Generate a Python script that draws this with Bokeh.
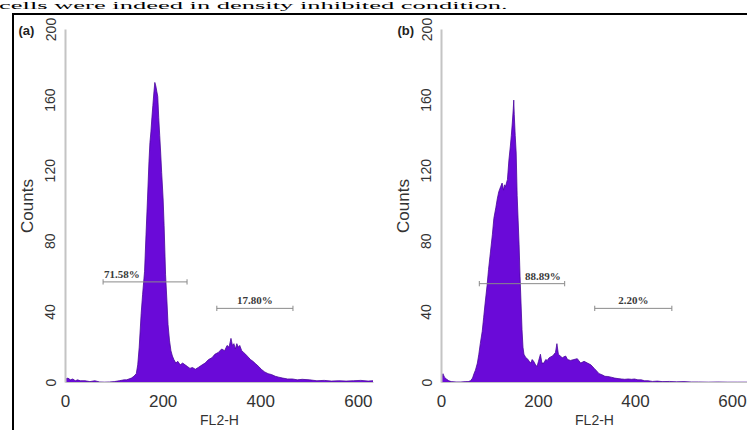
from bokeh.plotting import figure
from bokeh.models import Div, FixedTicker, ColumnDataSource, Spacer
from bokeh.layouts import row, column
from bokeh.embed import file_html
from bokeh.resources import INLINE
from bokeh.core.properties import value

caption = "cells were indeed in density inhibited condition."
x_label = "FL2-H"
y_label = "Counts"
x_ticks = [0, 200, 400, 600]
y_ticks = [0, 40, 80, 120, 160, 200]
panel_tags = ["(a)", "(b)"]

# Panel (a) histogram: FL2-H channel vs counts
a_x = [0, 5, 10, 15, 20, 25, 30, 40, 50, 60, 70, 80, 90, 100, 110, 120, 125, 130, 135, 140,
       145, 148, 151, 155, 158, 162, 165, 168, 171, 173, 175, 177, 179, 181, 183, 185, 187, 189,
       191, 193, 195, 197, 200, 202, 205, 208, 210, 213, 216, 219, 222, 226, 230, 235, 240, 245,
       250, 255, 260, 266, 272, 280, 286, 293, 300, 306, 313, 320, 326, 331, 335, 339, 342, 345,
       348, 351, 354, 357, 361, 365, 369, 374, 379, 384, 390, 396, 401, 408, 415, 422, 430, 437,
       445, 455, 465, 475, 485, 500, 515, 530, 545, 560, 575, 590, 605, 620, 630]
a_counts = [2, 2.5, 1.5, 2, 1, 1.5, 1, 1, 0.5, 1, 0.3, 0.2, 0.3, 0.5, 1, 1.5, 1.5, 2, 2.5, 3.5,
            5, 10, 20, 39, 50, 63, 84, 104, 125, 136, 142, 150, 157, 164, 170, 168, 165, 162,
            150, 140, 130, 119, 104, 89, 61, 45, 33, 24, 18, 15, 13, 11, 12, 10, 11, 10,
            9, 8, 8.5, 7.5, 8.5, 10, 11, 13, 14, 16, 17, 19, 18, 21, 20, 25, 21, 22,
            19, 22, 20, 21, 18, 17, 16, 14.5, 13, 12, 10.5, 9, 7.5, 6, 5, 4.5, 3.5, 3,
            2.5, 2, 2, 1.5, 1.8, 1.5, 1, 1.2, 0.8, 1, 0.8, 1, 1.2, 0.8, 1]

# Panel (b) histogram
b_x = [0, 3, 6, 10, 15, 20, 30, 40, 50, 55, 60, 64, 67, 70, 74, 77, 80, 84, 87, 90, 94, 97,
       101, 105, 108, 112, 115, 118, 122, 125, 128, 130, 132, 134, 136, 139, 142, 144, 146, 148,
       149, 150, 152, 154, 156, 158, 160, 162, 164, 166, 168, 170, 174, 177, 181, 184, 187, 190,
       194, 197, 200, 204, 207, 211, 215, 218, 222, 225, 229, 232, 235, 238, 241, 245, 249, 252,
       256, 260, 266, 273, 280, 287, 294, 301, 308, 315, 320, 325, 330, 337, 343, 350, 357, 364,
       371, 378, 385, 392, 398, 405, 412, 419, 426, 435, 445, 455, 470, 485, 500, 515, 530, 550,
       570, 590, 610, 633]
b_counts = [3, 5, 3, 2, 1, 0.5, 0.3, 0.3, 0.5, 0.5, 1, 2.5, 5, 7, 11, 16, 22, 29, 37, 45, 55, 64,
            74, 84, 93, 99, 104, 108, 111, 113, 109, 112, 111, 113, 115, 126, 134, 140, 147, 155,
            160, 152, 140, 130, 106, 92, 78, 60, 45, 30, 20, 16, 14, 13.5, 12, 11, 13, 12,
            10, 9, 12, 16, 11, 11, 13, 12.5, 14, 14.5, 15, 16, 17, 22, 16, 15, 14, 14.5,
            15, 13, 12.5, 13, 13.5, 11, 12, 11, 10, 8, 6.5, 5, 4.5, 3.5, 3.4, 3, 2.5, 2.2,
            2, 1.8, 2, 1.8, 2, 1.5, 1.5, 1, 1, 0.6, 0.8, 0.5, 0.6, 0.4, 0.5, 0.3, 0.3, 0.2,
            0.3, 0.2, 0.2, 0.2]

# Marker gates (start, end, level, percentage text)
a_gate_start = [77, 310]
a_gate_end = [249, 466]
a_gate_level = [57, 42]
a_gate_text = ["71.58%", "17.80%"]
a_gate_anchor = ["start", "center"]

b_gate_start = [78, 316]
b_gate_end = [254, 475]
b_gate_level = [56, 42]
b_gate_text = ["88.89%", "2.20%"]
b_gate_anchor = ["end", "center"]

FILL = "#6a0ad8"
EDGE = "#4a089c"
AXIS_GRAY = "#c4c4c4"
TEXT = "#333333"


def make_panel(tag, xs, ys, g_start, g_end, g_level, g_text, g_anchor,
               width, left, right, x_end, tag_offset):
    p = figure(width=width, height=415, x_range=(0, x_end), y_range=(0, 200),
               output_backend="svg", toolbar_location=None,
               min_border_left=left, min_border_right=right,
               min_border_top=14, min_border_bottom=43,
               background_fill_color="white", border_fill_color="white")
    p.outline_line_color = None
    p.grid.grid_line_color = None

    p.varea(x=xs, y1=0, y2=ys, fill_color=FILL)
    p.line(x=xs, y=ys, line_color=EDGE, line_width=0.8)

    # gate markers
    tick_h = 1.5
    p.segment(x0=g_start, y0=g_level, x1=g_end, y1=g_level, line_color="#8a8a8a", line_width=1)
    p.segment(x0=g_start + g_end, y0=[v - tick_h for v in g_level] * 2,
              x1=g_start + g_end, y1=[v + tick_h for v in g_level] * 2,
              line_color="#8a8a8a", line_width=1)
    tx, ta = [], []
    for s, e, a in zip(g_start, g_end, g_anchor):
        if a == "start":
            tx.append(s + 2); ta.append("left")
        elif a == "end":
            tx.append(e - 8); ta.append("right")
        else:
            tx.append((s + e) / 2); ta.append("center")
    src = ColumnDataSource(dict(x=tx, y=[v + 1.2 for v in g_level], t=g_text, a=ta))
    p.text(x="x", y="y", text="t", text_align="a", text_baseline="bottom", source=src,
           text_font=value("Liberation Serif"), text_font_size="11px",
           text_font_style="bold", text_color="#3a3a3a")

    # axes
    p.xaxis.ticker = FixedTicker(ticks=x_ticks)
    p.yaxis.ticker = FixedTicker(ticks=y_ticks)
    p.xaxis.axis_label = x_label
    p.yaxis.axis_label = y_label
    for ax in (p.xaxis, p.yaxis):
        ax.major_tick_line_color = None
        ax.minor_tick_line_color = None
        ax.major_label_text_font = "Liberation Sans"
        ax.axis_label_text_font = "Liberation Sans"
        ax.major_label_text_color = TEXT
        ax.axis_label_text_color = TEXT
        ax.axis_label_text_font_style = "normal"
    p.xaxis.axis_line_color = AXIS_GRAY
    p.xaxis.axis_line_width = 1
    p.yaxis.axis_line_color = AXIS_GRAY
    p.yaxis.axis_line_width = 2
    p.xaxis.major_label_text_font_size = "17px"
    p.xaxis.axis_label_text_font_size = "14px"
    p.xaxis.major_label_standoff = 6
    p.xaxis.axis_label_standoff = 2
    p.yaxis.major_label_text_font_size = "14px"
    p.yaxis.axis_label_text_font_size = "17px"
    p.yaxis.major_label_orientation = "vertical"
    p.yaxis.major_label_standoff = 4
    p.yaxis.axis_label_standoff = 6

    # panel tag as a left-aligned title pulled down beside the top of the y axis
    p.title.text = tag
    p.title.align = "left"
    p.title.offset = tag_offset
    p.title.standoff = -16
    p.title.text_font = "Liberation Sans"
    p.title.text_font_size = "13px"
    p.title.text_font_style = "bold"
    p.title.text_color = "#222222"
    return p


pa = make_panel(panel_tags[0], a_x, a_counts, a_gate_start, a_gate_end, a_gate_level,
                a_gate_text, a_gate_anchor, width=360, left=48, right=1, x_end=631,
                tag_offset=-47)
pb = make_panel(panel_tags[1], b_x, b_counts, b_gate_start, b_gate_end, b_gate_level,
                b_gate_text, b_gate_anchor, width=373, left=67, right=0, x_end=631,
                tag_offset=-44)

top = Div(text=('<div style="margin-top:-5px;margin-left:-6px;white-space:nowrap;'
                "font-family:'Liberation Serif';font-size:26.5px;line-height:26.5px;color:#000;"
                'transform:scaleY(0.40);transform-origin:0 0">'
                + caption + "</div>"),
          width=732, height=3)
panels = row(pa, pb, styles={"border-top": "2px solid black", "border-left": "2px solid black"})
layout = column(top, row(Spacer(width=12, height=10), panels))

open("out.html", "w").write(file_html(layout, INLINE))
